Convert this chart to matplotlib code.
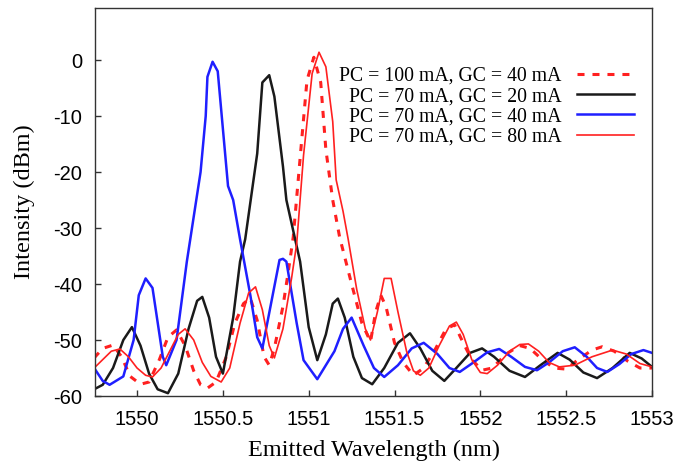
import matplotlib
matplotlib.use("Agg")
import matplotlib.pyplot as plt

# PC = 100 mA, GC = 40 mA (red dashed)
wl_a = [1549.75, 1549.80, 1549.86, 1549.91, 1549.96, 1550.02, 1550.07, 1550.13, 1550.18, 1550.23,
        1550.28, 1550.33, 1550.37, 1550.41, 1550.46, 1550.52, 1550.57, 1550.62, 1550.66, 1550.70,
        1550.74, 1550.77, 1550.80, 1550.85, 1550.88, 1550.91, 1550.96, 1550.99, 1551.03, 1551.07,
        1551.10, 1551.14, 1551.18, 1551.25, 1551.31, 1551.36, 1551.39, 1551.42, 1551.45, 1551.50,
        1551.55, 1551.61, 1551.67, 1551.74, 1551.80, 1551.85, 1551.90, 1551.95, 1552.01, 1552.07,
        1552.15, 1552.23, 1552.29, 1552.36, 1552.43, 1552.50, 1552.57, 1552.65, 1552.71, 1552.78,
        1552.86, 1552.93, 1553.00]
int_a = [-53.2, -51.5, -50.9, -53.0, -56.5, -57.9, -57.5, -53.5, -49.5, -48.2,
         -51.0, -55.5, -58.0, -58.6, -57.5, -53.0, -47.0, -43.5, -42.5, -46.5,
         -53.0, -54.5, -51.5, -44.0, -38.0, -31.6, -14.0, -3.6, 0.5, -4.0,
         -16.0, -25.0, -31.6, -40.0, -47.0, -50.3, -45.0, -42.0, -44.0, -50.5,
         -54.0, -56.3, -55.0, -51.5, -48.0, -47.3, -50.5, -53.5, -55.4, -55.0,
         -52.5, -51.0, -51.5, -53.5, -55.0, -55.2, -53.5, -51.8, -51.2, -52.0,
         -53.8, -55.0, -55.0]

# PC = 70 mA, GC = 20 mA (black)
wl_b = [1549.75, 1549.80, 1549.86, 1549.92, 1549.97, 1550.02, 1550.07, 1550.12, 1550.18, 1550.24,
        1550.30, 1550.35, 1550.38, 1550.42, 1550.46, 1550.50, 1550.56, 1550.60, 1550.63, 1550.70,
        1550.73, 1550.77, 1550.80, 1550.85, 1550.87, 1550.91, 1550.95, 1551.00, 1551.05, 1551.10,
        1551.14, 1551.17, 1551.21, 1551.26, 1551.31, 1551.37, 1551.44, 1551.52, 1551.59, 1551.65,
        1551.72, 1551.79, 1551.86, 1551.94, 1552.01, 1552.08, 1552.17, 1552.26, 1552.35, 1552.45,
        1552.52, 1552.60, 1552.68, 1552.77, 1552.87, 1552.94, 1553.00]
int_b = [-58.8, -58.0, -55.0, -50.0, -47.7, -51.0, -56.0, -58.8, -59.5, -56.0,
         -48.0, -43.0, -42.3, -46.0, -53.0, -56.0, -46.0, -36.0, -32.0, -16.7,
         -4.0, -2.7, -6.5, -19.0, -25.0, -30.5, -36.0, -47.7, -53.6, -49.0,
         -43.5, -42.6, -46.0, -53.0, -56.8, -57.9, -55.0, -50.5, -48.8, -51.5,
         -55.5, -57.3, -55.0, -52.3, -51.5, -53.0, -55.5, -56.6, -54.5, -52.3,
         -53.5, -55.8, -56.8, -55.0, -52.3, -53.3, -54.8]

# PC = 70 mA, GC = 40 mA (blue)
wl_c = [1549.75, 1549.80, 1549.84, 1549.92, 1549.98, 1550.01, 1550.05, 1550.09, 1550.15, 1550.17,
        1550.23, 1550.29, 1550.31, 1550.37, 1550.40, 1550.41, 1550.44, 1550.47, 1550.53, 1550.56,
        1550.60, 1550.66, 1550.70, 1550.73, 1550.79, 1550.83, 1550.85, 1550.87, 1550.93, 1550.97,
        1551.05, 1551.15, 1551.20, 1551.25, 1551.32, 1551.38, 1551.44, 1551.52, 1551.60, 1551.67,
        1551.75, 1551.82, 1551.88, 1551.96, 1552.04, 1552.11, 1552.18, 1552.26, 1552.33, 1552.40,
        1552.48, 1552.55, 1552.62, 1552.68, 1552.74, 1552.81, 1552.88, 1552.95, 1553.00]
int_c = [-55.0, -57.3, -58.0, -56.5, -50.0, -42.0, -39.0, -40.7, -53.0, -54.5,
         -50.0, -36.0, -32.0, -20.0, -10.0, -3.0, -0.3, -2.0, -22.5, -25.0,
         -32.0, -42.0, -49.5, -51.5, -42.0, -35.7, -35.5, -36.0, -47.0, -53.6,
         -57.0, -52.0, -48.0, -46.0, -51.0, -55.0, -56.6, -54.5, -51.5, -50.5,
         -52.5, -55.0, -55.7, -54.0, -52.2, -51.6, -53.0, -54.8, -55.4, -54.0,
         -52.0, -51.3, -53.0, -55.0, -55.7, -54.3, -52.5, -51.8, -52.3]

# PC = 70 mA, GC = 80 mA (red solid)
wl_d = [1549.75, 1549.80, 1549.85, 1549.90, 1549.95, 1550.00, 1550.05, 1550.09, 1550.14, 1550.19,
        1550.24, 1550.28, 1550.33, 1550.38, 1550.43, 1550.49, 1550.54, 1550.60, 1550.65, 1550.69,
        1550.73, 1550.77, 1550.80, 1550.85, 1550.90, 1550.93, 1550.97, 1551.02, 1551.06, 1551.10,
        1551.14, 1551.16, 1551.20, 1551.23, 1551.28, 1551.33, 1551.36, 1551.40, 1551.44, 1551.48,
        1551.52, 1551.57, 1551.61, 1551.65, 1551.70, 1551.76, 1551.82, 1551.86, 1551.90, 1551.95,
        1552.00, 1552.04, 1552.10, 1552.17, 1552.23, 1552.28, 1552.34, 1552.40, 1552.46, 1552.55,
        1552.65, 1552.77, 1552.85, 1552.93, 1553.00]
int_d = [-55.0, -53.5, -52.0, -51.6, -53.0, -55.0, -56.3, -56.6, -55.0, -52.0,
         -49.0, -48.0, -50.0, -54.0, -56.5, -57.5, -55.0, -47.0, -41.6, -40.5,
         -44.6, -51.0, -53.2, -48.0, -39.0, -32.8, -17.0, -2.4, 1.4, -1.2,
         -11.0, -21.4, -27.0, -32.0, -41.0, -48.0, -50.0, -45.0, -39.0, -39.0,
         -45.0, -52.0, -55.5, -56.3, -55.0, -51.0, -47.5, -46.8, -49.0, -53.5,
         -55.8, -56.0, -54.5, -52.0, -50.8, -50.7, -52.0, -54.0, -54.8, -54.5,
         -53.0, -51.8, -52.5, -54.2, -54.8]

labels = ["PC = 100 mA, GC = 40 mA", "PC = 70 mA, GC = 20 mA",
          "PC = 70 mA, GC = 40 mA", "PC = 70 mA, GC = 80 mA"]
xticks = [1550, 1550.5, 1551, 1551.5, 1552, 1552.5, 1553]
xticklabels = ["1550", "1550.5", "1551", "1551.5", "1552", "1552.5", "1553"]
yticks = [-60, -50, -40, -30, -20, -10, 0]

fig = plt.figure(figsize=(6.79, 4.61), dpi=100)
ax = fig.add_axes([95 / 679, 1 - 396 / 461, 557 / 679, 388 / 461])

ax.plot(wl_a, int_a, color="#ff2020", lw=2.2, dashes=(2.3, 2.6), label=labels[0])
ax.plot(wl_b, int_b, color="#1a1a1a", lw=1.8, label=labels[1])
ax.plot(wl_c, int_c, color="#1f1fff", lw=1.8, label=labels[2])
ax.plot(wl_d, int_d, color="#ff2020", lw=1.2, label=labels[3])

ax.set_xlim(1549.755, 1553)
ax.set_ylim(-60, 9.3)
ax.set_xticks(xticks)
ax.set_xticklabels(xticklabels, family="Liberation Sans", fontsize=14.5)
ax.set_yticks(yticks)
ax.set_yticklabels([str(v) for v in yticks], family="Liberation Sans", fontsize=14.5)
ax.tick_params(direction="in", length=4, width=1, color="#333333", top=False, right=False)
ax.tick_params(axis="x", pad=10)
ax.tick_params(axis="y", pad=9)
for s in ax.spines.values():
    s.set_color("#333333")
    s.set_linewidth(1)

ax.set_xlabel("Emitted Wavelength (nm)", family="Liberation Serif", fontsize=17.5, labelpad=8)
ax.set_ylabel("Intensity (dBm)", family="Liberation Serif", fontsize=17.5, labelpad=13)

ax.legend(loc="upper right", bbox_to_anchor=(0.968, 0.848), frameon=False,
          markerfirst=False, handlelength=2.9, handletextpad=0.8, labelspacing=0.06,
          borderpad=0, borderaxespad=0, prop={"family": "Liberation Serif", "size": 14.2})

fig.savefig("out.png", dpi=100)
